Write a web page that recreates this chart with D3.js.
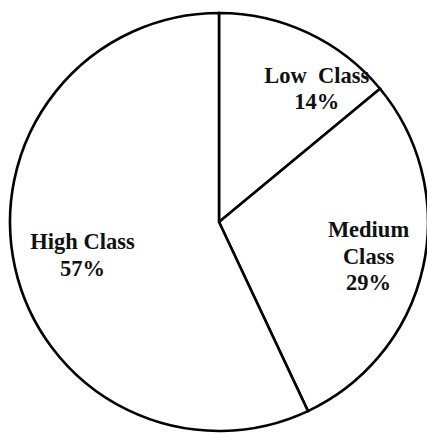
<html>
<head>
<script src="https://d3js.org/d3.v7.min.js"></script>
<style>
  body { margin: 0; background: #fff; }
</style>
</head>
<body>
<div id="chart"></div>
<script>
    // data
    var categories = ['Low Class', 'Medium Class', 'High Class'];
    var values = [14, 29, 57];
    // how each label breaks into lines
    var labelLines = [['Low  Class'], ['Medium', 'Class'], ['High Class']];
    // small nudges so labels sit where the original put them
    var labelShift = [[36, -2], [8, 3], [5, 2]];

    var width = 427, height = 433;
    var cx = 219, cy = 222, radius = 209;

    var svg = d3.select('#chart').append('svg')
        .attr('width', width).attr('height', height);

    var g = svg.append('g').attr('transform', `translate(${cx},${cy})`);

    var pie = d3.pie().sort(null).value(d => d);
    var arcs = pie(values);
    var arc = d3.arc().innerRadius(0).outerRadius(radius);
    var labelArc = d3.arc().innerRadius(145).outerRadius(145);

    g.selectAll('path').data(arcs).enter().append('path')
        .attr('d', arc)
        .attr('fill', '#fff')
        .attr('stroke', '#000')
        .attr('stroke-width', 2.6)
        .attr('stroke-linejoin', 'miter');

    var lineH = 26.5;
    arcs.forEach(function(d, i) {
        var c = labelArc.centroid(d);
        var lx = c[0] + labelShift[i][0], ly = c[1] + labelShift[i][1];
        var lines = labelLines[i].concat([values[i] + '%']);
        var top = -(lines.length - 1) * lineH / 2 + 7;
        g.selectAll(null).data(lines).enter().append('text')
            .attr('x', lx)
            .attr('y', (s, k) => ly + top + k * lineH)
            .attr('text-anchor', 'middle')
            .style('font-family', "'Liberation Serif'")
            .style('font-weight', 'bold')
            .style('font-size', '22.5px')
            .style('white-space', 'pre')
            .attr('fill', '#111')
            .text(s => s);
    });
</script>
</body>
</html>
